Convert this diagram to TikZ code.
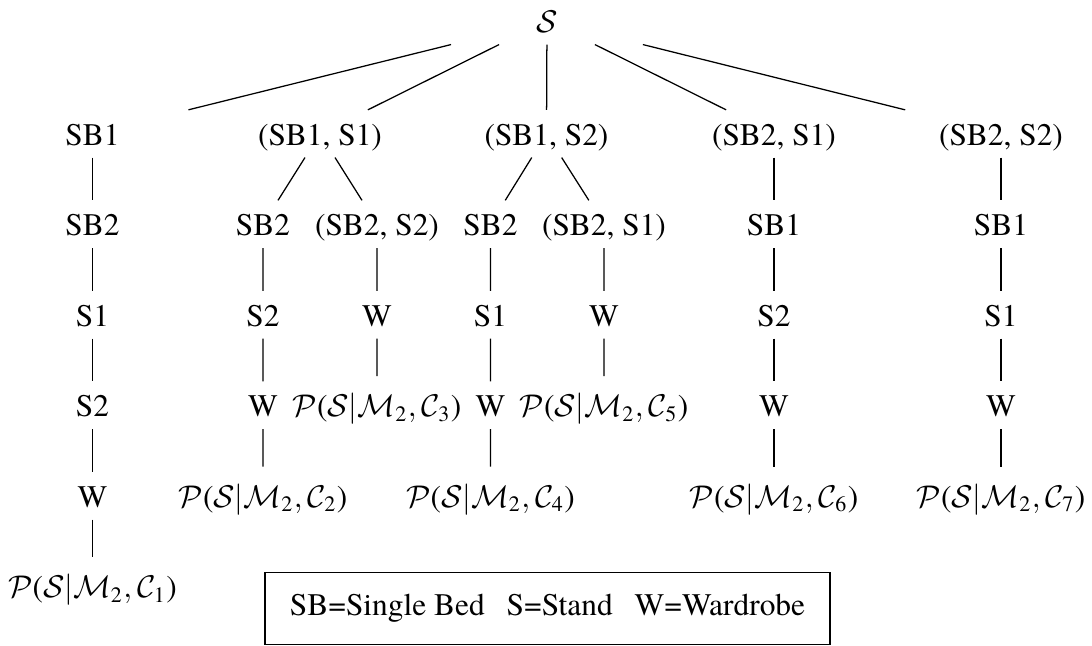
\documentclass[tikz,border=0pt]{standalone}
\usepackage{amsmath}
\usepackage{fontspec}
\setmainfont{TeX Gyre Termes}
% probability label P(S | M_2, C_k) with upright text-font digits and parentheses
\newcommand{\probof}[1]{$\mathcal{P}\mathopen{\text{(}}\mathcal{S}|\mathcal{M}_{\text{2}},\mathcal{C}_{\text{#1}}\mathclose{\text{)}}$}
\begin{document}
\begin{tikzpicture}[x=0.3185pt,y=-0.3185pt,
  tn/.style={anchor=base, inner xsep=0pt, inner ysep=3.2pt,
             text height=7.8pt, text depth=0.6pt, minimum width=70pt},
  pn/.style={tn, text height=9.5pt},
  legendbox/.style={draw, line width=0.4pt, inner sep=0pt,
             minimum width=180pt, minimum height=22.8pt,
             text height=6.8pt, text depth=2.2pt}]
\useasboundingbox (0,0) rectangle (1092,646);

% root
\node[tn] (root) at (547,32) {$\mathcal{S}$};

% first level
\node[tn] (a1) at (92.5,145) {SB1};
\node[tn] (a2) at (320,145) {(SB1, S1)};
\node[tn] (a3) at (546.5,145) {(SB1, S2)};
\node[tn] (a4) at (774,145) {(SB2, S1)};
\node[tn] (a5) at (1001,145) {(SB2, S2)};

% column 1
\node[tn] (b1) at (92.5,235.5) {SB2};
\node[tn] (c1) at (92.5,326) {S1};
\node[tn] (d1) at (92.5,416.5) {S2};
\node[tn] (e1) at (92.5,507) {W};
\node[pn] (p1) at (92.5,597.5) {\probof{1}};

% column 2
\node[tn] (b2l) at (263,235.5) {SB2};
\node[tn] (c2l) at (263,326) {S2};
\node[tn] (d2l) at (263,416.5) {W};
\node[pn] (p2) at (263,507) {\probof{2}};
\node[tn] (b2r) at (377,235.5) {(SB2, S2)};
\node[tn] (c2r) at (377,326) {W};
\node[pn] (p3) at (377,416.5) {\probof{3}};

% column 3
\node[tn] (b3l) at (490.5,235.5) {SB2};
\node[tn] (c3l) at (490.5,326) {S1};
\node[tn] (d3l) at (490.5,416.5) {W};
\node[pn] (p4) at (490.5,507) {\probof{4}};
\node[tn] (b3r) at (604,235.5) {(SB2, S1)};
\node[tn] (c3r) at (604,326) {W};
\node[pn] (p5) at (604,416.5) {\probof{5}};

% column 4
\node[tn] (b4) at (774,235.5) {SB1};
\node[tn] (c4) at (774,326) {S2};
\node[tn] (d4) at (774,416.5) {W};
\node[pn] (p6) at (774,507) {\probof{6}};

% column 5
\node[tn] (b5) at (1001,235.5) {SB1};
\node[tn] (c5) at (1001,326) {S1};
\node[tn] (d5) at (1001,416.5) {W};
\node[pn] (p7) at (1001,507) {\probof{7}};

% edges
\foreach \k in {a1,a2,a3,a4,a5} \draw (root) -- (\k);
\draw (a1) -- (b1) -- (c1) -- (d1) -- (e1) -- (p1);
\draw (a2) -- (b2l) -- (c2l) -- (d2l) -- (p2);
\draw (a2) -- (b2r) -- (c2r) -- (p3);
\draw (a3) -- (b3l) -- (c3l) -- (d3l) -- (p4);
\draw (a3) -- (b3r) -- (c3r) -- (p5);
\draw (a4) -- (b4) -- (c4) -- (d4) -- (p6);
\draw (a5) -- (b5) -- (c5) -- (d5) -- (p7);

% legend
\node[legendbox] (legend) at (547.5,608.5)
  {SB=Single Bed\hspace{0.7em}S=Stand\hspace{0.7em}W=Wardrobe};
\end{tikzpicture}
\end{document}
